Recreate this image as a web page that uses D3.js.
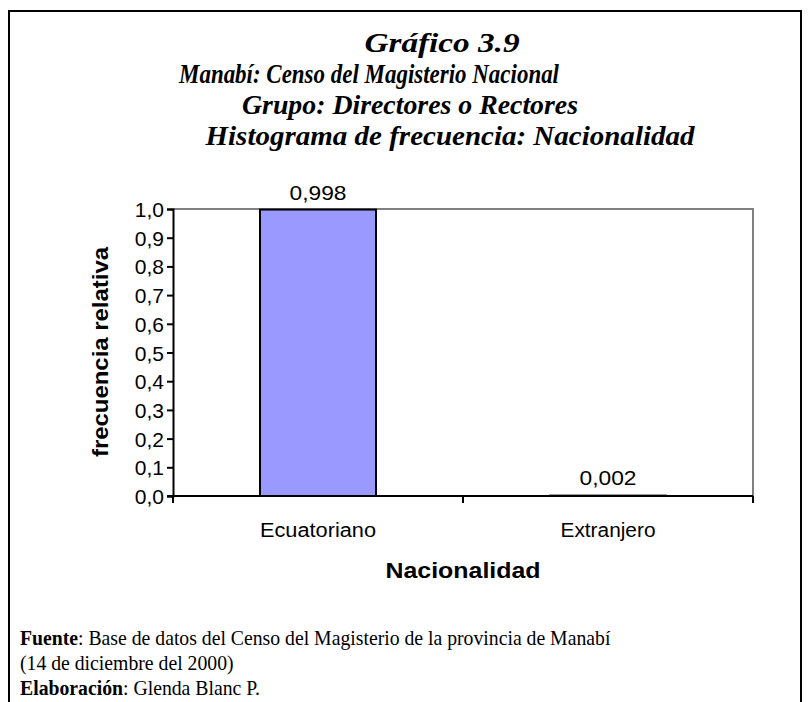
<!DOCTYPE html>
<html>
<head>
<meta charset="utf-8">
<script src="https://cdn.jsdelivr.net/npm/d3@7"></script>
<style>
  body { margin: 0; background: #fff; }
  .serif { font-family: 'Liberation Serif', 'Times New Roman', serif; }
  .sans { font-family: 'Liberation Sans', Arial, sans-serif; }
</style>
</head>
<body>
<div id="chart"></div>
<script>
// data
var categories = ['Ecuatoriano', 'Extranjero']
var values = [0.998, 0.002]
var yTicks = [0, 0.1, 0.2, 0.3, 0.4, 0.5, 0.6, 0.7, 0.8, 0.9, 1.0]
var titleLines = [
  { text: 'Gráfico 3.9', cx: 442, y: 52, w: 155 },
  { text: 'Manabí: Censo del Magisterio Nacional', cx: 369, y: 83, w: 380 },
  { text: 'Grupo: Directores o Rectores', cx: 410, y: 114, w: 336 },
  { text: 'Histograma de frecuencia: Nacionalidad', cx: 450, y: 145, w: 489 }
]
var footLines = [
  [{ t: 'Fuente', b: true }, { t: ': Base de datos del Censo del Magisterio de la provincia de Manabí' }],
  [{ t: '(14 de diciembre del 2000)' }],
  [{ t: 'Elaboración', b: true }, { t: ': Glenda Blanc P.' }]
]

var width = 808
var height = 702
var margin = { left: 173, top: 209, right: 55, bottom: 206 }

var svg = d3.select('#chart')
  .append('svg')
  .attr('width', width)
  .attr('height', height)

// outer frame
svg.append('rect')
  .attr('x', 9)
  .attr('y', 11)
  .attr('width', 792)
  .attr('height', 720)
  .attr('fill', 'none')
  .attr('stroke', '#000')
  .attr('stroke-width', 2)

// title
svg.selectAll('text.title')
  .data(titleLines)
  .enter()
  .append('text')
  .attr('class', 'title serif')
  .attr('x', function (d) { return d.cx })
  .attr('y', function (d) { return d.y })
  .attr('text-anchor', 'middle')
  .attr('textLength', function (d) { return d.w })
  .attr('lengthAdjust', 'spacingAndGlyphs')
  .style('font-size', '27px')
  .style('font-weight', 'bold')
  .style('font-style', 'italic')
  .text(function (d) { return d.text })

var x0 = margin.left
var x1 = width - margin.right
var y0 = height - margin.bottom
var y1 = margin.top

var x = d3.scaleBand()
  .domain(categories)
  .range([x0, x1])
  .paddingInner(0.6)
  .paddingOuter(0.3)

var y = d3.scaleLinear()
  .domain([0, 1])
  .range([y0, y1])

var fmt = function (v) { return d3.format('.1f')(v).replace('.', ',') }

// plot frame (top and right in grey)
svg.append('path')
  .attr('d', 'M' + x0 + ',' + y1 + 'H' + x1 + 'V' + y0)
  .attr('fill', 'none')
  .attr('stroke', '#808080')
  .attr('stroke-width', 2)

// bars
svg.selectAll('rect.bar')
  .data(values)
  .enter()
  .append('rect')
  .attr('class', 'bar')
  .attr('x', function (d, i) { return x(categories[i]) })
  .attr('y', function (d) { return y(d) })
  .attr('width', x.bandwidth())
  .attr('height', function (d) { return y0 - y(d) })
  .attr('fill', '#9999FF')
  .attr('stroke', function (d) { return d < 0.01 ? '#555' : '#000' })
  .attr('stroke-width', 2)

// value labels
svg.selectAll('text.val')
  .data(values)
  .enter()
  .append('text')
  .attr('class', 'val sans')
  .attr('x', function (d, i) { return x(categories[i]) + x.bandwidth() / 2 })
  .attr('y', function (d) { return y(d) - 10 })
  .attr('text-anchor', 'middle')
  .attr('textLength', 57)
  .attr('lengthAdjust', 'spacingAndGlyphs')
  .style('font-size', '21px')
  .text(function (d) { return d3.format('.3f')(d).replace('.', ',') })

// y axis
var yAxis = svg.append('g')
  .attr('transform', 'translate(' + x0 + ',0)')
  .call(d3.axisLeft(y).tickValues(yTicks).tickSize(6).tickFormat(fmt))
yAxis.select('.domain').attr('stroke', '#000').attr('stroke-width', 2)
yAxis.selectAll('.tick line').attr('stroke', '#000').attr('stroke-width', 2)
yAxis.selectAll('.tick text')
  .attr('class', 'sans')
  .attr('x', -9)
  .attr('dy', '0.36em')
  .style('font-size', '21px')
  .attr('fill', '#000')

// x axis
var xAxis = svg.append('g')
  .attr('transform', 'translate(0,' + y0 + ')')
xAxis.append('line')
  .attr('x1', x0 - 6)
  .attr('x2', x1)
  .attr('stroke', '#000')
  .attr('stroke-width', 2)
var edges = [x0].concat(categories.map(function (c) { return x(c) + x.bandwidth() + x.step() * x.paddingInner() / 2 }))
xAxis.selectAll('line.tk')
  .data(edges)
  .enter()
  .append('line')
  .attr('class', 'tk')
  .attr('x1', function (d) { return d })
  .attr('x2', function (d) { return d })
  .attr('y1', 0)
  .attr('y2', 7)
  .attr('stroke', '#000')
  .attr('stroke-width', 2)
xAxis.selectAll('text.cat')
  .data(categories)
  .enter()
  .append('text')
  .attr('class', 'cat sans')
  .attr('x', function (d) { return x(d) + x.bandwidth() / 2 })
  .attr('y', 41)
  .attr('text-anchor', 'middle')
  .attr('textLength', function (d, i) { return [116, 95][i] })
  .attr('lengthAdjust', 'spacingAndGlyphs')
  .style('font-size', '20px')
  .text(function (d) { return d })

// axis titles
svg.append('text')
  .attr('class', 'sans')
  .attr('x', 463)
  .attr('y', 578)
  .attr('text-anchor', 'middle')
  .attr('textLength', 155)
  .attr('lengthAdjust', 'spacingAndGlyphs')
  .style('font-size', '22px')
  .style('font-weight', 'bold')
  .text('Nacionalidad')

svg.append('text')
  .attr('class', 'sans')
  .attr('transform', 'translate(108,352) rotate(-90)')
  .attr('text-anchor', 'middle')
  .attr('textLength', 210)
  .attr('lengthAdjust', 'spacingAndGlyphs')
  .style('font-size', '22px')
  .style('font-weight', 'bold')
  .text('frecuencia relativa')

// footer (slightly condensed Times)
var foot = svg.append('g')
  .attr('class', 'serif')
  .attr('transform', 'translate(20,0) scale(0.94,1)')
  .style('font-size', '21px')
footLines.forEach(function (line, i) {
  var t = foot.append('text')
    .attr('x', 0)
    .attr('y', 645 + i * 25)
  t.selectAll('tspan')
    .data(line)
    .enter()
    .append('tspan')
    .style('font-weight', function (d) { return d.b ? 'bold' : 'normal' })
    .text(function (d) { return d.t })
})
</script>
</body>
</html>
